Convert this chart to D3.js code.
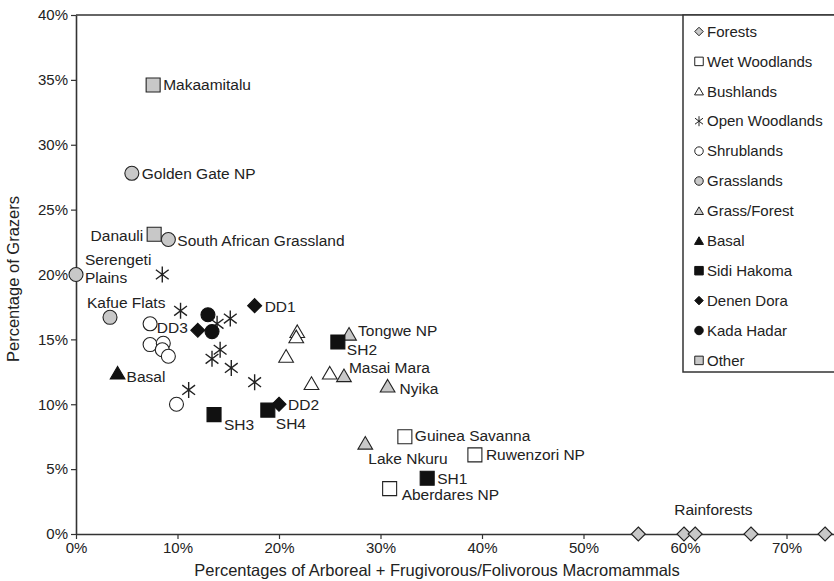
<!DOCTYPE html>
<html>
<head>
<meta charset="utf-8">
<script src="https://cdn.jsdelivr.net/npm/d3@7"></script>
<style>
  body { margin: 0; background: #fff; }
  text { font-family: "Liberation Sans", Arial, sans-serif; fill: #222; }
</style>
</head>
<body>
<div id="chart"></div>
<script>
// data: [x %, y %, label]
const categories = ["Forests", "Wet Woodlands", "Bushlands", "Open Woodlands", "Shrublands",
    "Grasslands", "Grass/Forest", "Basal", "Sidi Hakoma", "Denen Dora", "Kada Hadar", "Other"];

const forests = [[55.4, 0], [59.9, 0], [61.0, 0], [66.5, 0], [73.8, 0]];
const wetWoodlands = [[32.4, 7.5, "Guinea Savanna"], [39.3, 6.1, "Ruwenzori NP"], [30.9, 3.5, "Aberdares NP"]];
const bushlands = [[21.8, 15.6], [21.7, 15.2], [20.7, 13.7], [25.0, 12.4], [23.2, 11.6]];
const openWoodlands = [[8.5, 20.0], [10.3, 17.2], [13.9, 16.2], [15.2, 16.6], [14.2, 14.2],
    [13.4, 13.5], [15.3, 12.8], [17.6, 11.7], [11.1, 11.1]];
const shrublands = [[7.3, 16.2], [7.3, 14.6], [8.6, 14.7], [8.5, 14.2], [9.1, 13.7], [9.9, 10.0]];
const grasslands = [[5.5, 27.8, "Golden Gate NP"], [9.1, 22.7, "South African Grassland"],
    [0, 20.0, "Serengeti|Plains"], [3.35, 16.7, "Kafue Flats"]];
const grassForest = [[26.9, 15.4, "Tongwe NP"], [26.4, 12.2, "Masai Mara"], [30.7, 11.4, "Nyika"], [28.5, 7.0, "Lake Nkuru"]];
const basal = [[4.1, 12.4, "Basal"]];
const sidiHakoma = [[34.6, 4.3, "SH1"], [25.8, 14.8, "SH2"], [13.6, 9.2, "SH3"], [18.9, 9.55, "SH4"]];
const denenDora = [[17.6, 17.6, "DD1"], [20.0, 10.0, "DD2"], [12.0, 15.7, "DD3"]];
const kadaHadar = [[13.0, 16.9], [13.4, 15.6]];
const other = [[7.6, 34.6, "Makaamitalu"], [7.7, 23.1, "Danauli"]];
const freeLabels = [[62.8, 1.85, "Rainforests"]];

const xTicks = [0, 10, 20, 30, 40, 50, 60, 70];
const yTicks = [0, 5, 10, 15, 20, 25, 30, 35, 40];

// marker style per category (same order as categories)
const GREY = "#c8c8c8";
const styles = [
    {shape: "diamond", fill: GREY}, {shape: "square", fill: "#fff"}, {shape: "triangle", fill: "#fff"},
    {shape: "asterisk", fill: "none"}, {shape: "circle", fill: "#fff"}, {shape: "circle", fill: GREY},
    {shape: "triangle", fill: GREY}, {shape: "triangle", fill: "#111"}, {shape: "square", fill: "#111"},
    {shape: "diamond", fill: "#111"}, {shape: "circle", fill: "#111"}, {shape: "square", fill: GREY}
];
const seriesData = [forests, wetWoodlands, bushlands, openWoodlands, shrublands, grasslands,
    grassForest, basal, sidiHakoma, denenDora, kadaHadar, other];

// label offsets from the marker (px), vertical offsets are for text centre
const labelPos = {
    "Makaamitalu": [10, 0], "Golden Gate NP": [10, 0], "Danauli": [-11, 1, "end"],
    "South African Grassland": [9, 1], "Serengeti|Plains": [9, -15], "Kafue Flats": [-23, -15],
    "DD3": [-10, -3, "end"], "Basal": [9, 3], "DD1": [10, 1], "Tongwe NP": [9, -4], "SH2": [9, 8],
    "Masai Mara": [5, -8], "Nyika": [12, 2], "DD2": [9, 0], "SH4": [8, 13], "SH3": [10, 10],
    "Guinea Savanna": [10, -1], "Lake Nkuru": [3, 15], "Ruwenzori NP": [11, 0], "SH1": [10, 0],
    "Aberdares NP": [12, 6]
};

const W = 834, H = 581;
const svg = d3.select("#chart").append("svg").attr("width", W).attr("height", H);

const x = d3.scaleLinear().domain([0, 80]).range([76, 888]);
const y = d3.scaleLinear().domain([0, 40]).range([534, 15]);

function marker(shape, s) {
    const h = s / 2;
    if (shape === "square") return `M${-h},${-h}H${h}V${h}H${-h}Z`;
    if (shape === "diamond") return `M0,${-h}L${h},0L0,${h}L${-h},0Z`;
    if (shape === "triangle") return `M0,${-h * 0.95}L${h * 1.05},${h * 0.85}L${-h * 1.05},${h * 0.85}Z`;
    if (shape === "circle") return `M${h},0A${h},${h} 0 1,1 ${-h},0A${h},${h} 0 1,1 ${h},0Z`;
    // asterisk: vertical bar plus an X
    const a = h * 0.8, b = h * 0.6;
    return `M0,${-h}V${h}M${-a},${-b}L${a},${b}M${-a},${b}L${a},${-b}`;
}

// top border
svg.append("line").attr("x1", 76).attr("x2", W).attr("y1", 15).attr("y2", 15)
    .attr("stroke", "#333").attr("stroke-width", 1.5);

// axes
const xAxis = svg.append("g").attr("transform", "translate(0,534)")
    .call(d3.axisBottom(x).tickValues(xTicks).tickFormat(d => d + "%").tickSize(5).tickSizeOuter(0));
const yAxis = svg.append("g").attr("transform", "translate(76,0)")
    .call(d3.axisLeft(y).tickValues(yTicks).tickFormat(d => d + "%").tickSize(5).tickSizeOuter(0));
[xAxis, yAxis].forEach(g => {
    g.select(".domain").attr("stroke", "#333").attr("stroke-width", 1.6);
    g.selectAll(".tick line").attr("stroke", "#333").attr("stroke-width", 1.2);
    g.selectAll(".tick text").attr("font-size", 15).attr("fill", "#222")
        .attr("font-family", "Liberation Sans, Arial, sans-serif");
});
xAxis.selectAll(".tick text").attr("dy", "0.85em").attr("y", 6);
yAxis.selectAll(".tick text").attr("x", -8);

svg.append("text").attr("x", 437).attr("y", 576).attr("text-anchor", "middle").attr("font-size", 16.5)
    .text("Percentages of Arboreal + Frugivorous/Folivorous Macromammals");
svg.append("text").attr("transform", "translate(19,279) rotate(-90)").attr("text-anchor", "middle")
    .attr("font-size", 16.5).text("Percentage of Grazers");

// points
seriesData.forEach((data, i) => {
    const st = styles[i];
    const size = st.shape === "asterisk" ? 16 : 14;
    svg.append("g").selectAll("path").data(data).join("path")
        .attr("transform", d => `translate(${x(d[0])},${y(d[1])})`)
        .attr("d", marker(st.shape, size))
        .attr("fill", st.fill)
        .attr("stroke", st.fill === "#111" ? "#111" : "#222")
        .attr("stroke-width", st.shape === "asterisk" ? 1.4 : 1.1);
});

// point labels
const labelled = seriesData.flat().filter(d => d[2]);
labelled.forEach(d => {
    const p = labelPos[d[2]] || [10, 0];
    const t = svg.append("text").attr("font-size", 15.5).attr("text-anchor", p[2] || "start")
        .attr("x", x(d[0]) + p[0]).attr("y", y(d[1]) + p[1]).attr("dy", "0.35em");
    const lines = d[2].split("|");
    if (lines.length === 1) t.text(d[2]);
    else lines.forEach((ln, k) => t.append("tspan").attr("x", x(d[0]) + p[0])
        .attr("dy", k === 0 ? "0.35em" : "1.15em").text(ln));
});
freeLabels.forEach(d => {
    svg.append("text").attr("font-size", 15.5).attr("text-anchor", "middle")
        .attr("x", x(d[0])).attr("y", y(d[1])).attr("dy", "0.35em").text(d[2]);
});

// legend
const lg = svg.append("g");
lg.append("rect").attr("x", 683).attr("y", 15).attr("width", 170).attr("height", 357)
    .attr("fill", "#fff").attr("stroke", "#333").attr("stroke-width", 1.5);
categories.forEach((c, i) => {
    const cy = 31.5 + i * 29.9;
    const st = styles[i];
    lg.append("path").attr("transform", `translate(699,${cy})`).attr("d", marker(st.shape, st.shape === "asterisk" ? 10 : 8.5))
        .attr("fill", st.fill).attr("stroke", st.fill === "#111" ? "#111" : "#222").attr("stroke-width", 1);
    lg.append("text").attr("x", 707).attr("y", cy).attr("dy", "0.35em").attr("font-size", 15).text(c);
});
</script>
</body>
</html>
